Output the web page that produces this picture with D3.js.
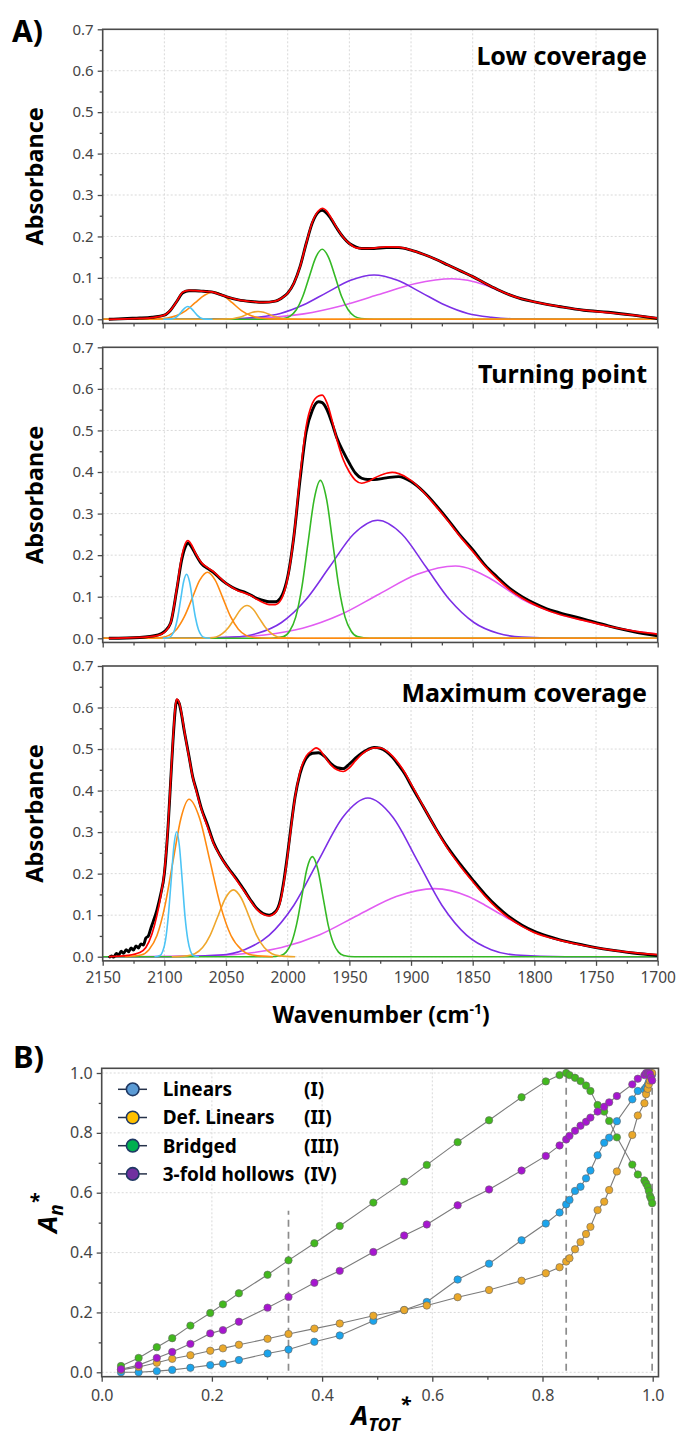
<!DOCTYPE html>
<html>
<head>
<meta charset="utf-8">
<script src="https://cdn.jsdelivr.net/npm/d3@7"></script>
<style>
  html, body { margin: 0; padding: 0; background: #fff; }
  svg { display: block; }
  text { font-family: "Noto Sans", "DejaVu Sans", sans-serif; }
</style>
</head>
<body>
<svg id="fig" width="681" height="1435"></svg>
<script>
// ---------------- Panel A: IR spectra (wavenumber, absorbance) ----------------
const wavenumberTicks = [2150, 2100, 2050, 2000, 1950, 1900, 1850, 1800, 1750, 1700];
const wavenumberMinor = [2125, 2075, 2025, 1975, 1925, 1875, 1825, 1775, 1725];
const absorbanceTicks = [0, 0.1, 0.2, 0.3, 0.4, 0.5, 0.6, 0.7];
const absorbanceMinor = [0.05, 0.15, 0.25, 0.35, 0.45, 0.55, 0.65];
const panelTitles = ["Low coverage", "Turning point", "Maximum coverage"];

// Low coverage
const lowMeasured = [[2145,0.000],[2130,0.002],[2120,0.003],[2110,0.005],[2100,0.010],[2095,0.022],[2090,0.043],[2085,0.064],[2080,0.069],[2075,0.069],[2070,0.068],[2065,0.067],[2060,0.065],[2055,0.060],[2050,0.055],[2040,0.047],[2030,0.043],[2020,0.041],[2010,0.044],[2005,0.051],[2000,0.063],[1995,0.087],[1990,0.127],[1985,0.183],[1980,0.233],[1975,0.259],[1972,0.263],[1968,0.255],[1965,0.243],[1960,0.219],[1955,0.198],[1950,0.183],[1945,0.175],[1940,0.171],[1930,0.171],[1920,0.173],[1910,0.173],[1900,0.167],[1890,0.157],[1880,0.145],[1870,0.131],[1860,0.117],[1850,0.103],[1840,0.087],[1830,0.072],[1820,0.059],[1810,0.049],[1800,0.042],[1790,0.036],[1780,0.031],[1760,0.022],[1740,0.017],[1720,0.010],[1700,0.002]];
const lowFit = [[2145,0.000],[2120,0.002],[2110,0.004],[2100,0.010],[2095,0.022],[2090,0.043],[2085,0.066],[2080,0.070],[2075,0.069],[2070,0.068],[2065,0.067],[2060,0.065],[2055,0.060],[2050,0.055],[2040,0.047],[2030,0.043],[2020,0.041],[2010,0.044],[2005,0.051],[2000,0.063],[1995,0.087],[1990,0.127],[1985,0.183],[1980,0.235],[1975,0.262],[1972,0.268],[1968,0.260],[1965,0.246],[1960,0.220],[1955,0.198],[1950,0.183],[1945,0.173],[1940,0.171],[1930,0.172],[1920,0.175],[1910,0.174],[1900,0.167],[1890,0.157],[1880,0.145],[1870,0.131],[1860,0.117],[1850,0.103],[1840,0.087],[1830,0.072],[1820,0.059],[1810,0.049],[1800,0.042],[1790,0.036],[1780,0.031],[1760,0.022],[1740,0.016],[1720,0.010],[1700,0.003]];
const lowLinear = [[2101,0],[2093.5,0.001],[2091,0.004],[2088.5,0.010],[2086,0.019],[2083.5,0.027],[2081,0.031],[2078.5,0.027],[2076,0.019],[2073.5,0.010],[2071,0.004],[2068.5,0.001],[2061,0]];
const lowDefLinearA = [[2150,0],[2120,0],[2105,0.001],[2097.5,0.003],[2090,0.009],[2082.5,0.021],[2075,0.040],[2067.5,0.058],[2060,0.066],[2052.5,0.058],[2045,0.040],[2037.5,0.021],[2030,0.009],[2022.5,0.003],[2015,0.001],[2000,0],[1700,0]];
const lowDefLinearB = [[2150,0],[2060,0],[2046.5,0.001],[2042,0.003],[2037.5,0.006],[2033,0.012],[2028.5,0.017],[2024,0.019],[2019.5,0.017],[2015,0.012],[2010.5,0.006],[2006,0.003],[2001.5,0.001],[1988,0],[1700,0]];
const lowBridged = [[2150,0],[2014,0],[2003.5,0.002],[1998.3,0.007],[1993,0.023],[1987.8,0.055],[1982.5,0.103],[1977.3,0.149],[1972,0.169],[1966.8,0.149],[1961.5,0.103],[1956.3,0.055],[1951,0.023],[1945.8,0.007],[1940.5,0.002],[1930,0],[1700,0]];
const lowHollowA = [[2150,0],[2082,0],[2044,0.001],[2025,0.005],[2006,0.014],[1987,0.035],[1968,0.065],[1949,0.094],[1930,0.107],[1911,0.094],[1892,0.065],[1873,0.035],[1854,0.014],[1835,0.005],[1816,0.001],[1778,0],[1700,0]];
const lowHollowB = [[2150,0],[2107,0],[2047,0.001],[2017,0.004],[1987,0.013],[1957,0.032],[1927,0.059],[1897,0.086],[1867,0.098],[1840,0.083],[1830,0.071],[1820,0.059],[1810,0.049],[1800,0.042],[1790,0.036],[1780,0.031],[1760,0.022],[1740,0.016],[1720,0.010],[1700,0.002]];

// Turning point
const tpMeasured = [[2145,0.000],[2120,0.002],[2105,0.008],[2100,0.016],[2095,0.036],[2090,0.116],[2086,0.188],[2083,0.220],[2081,0.229],[2078,0.220],[2075,0.204],[2070,0.180],[2065,0.168],[2060,0.158],[2055,0.144],[2050,0.132],[2045,0.123],[2040,0.116],[2035,0.111],[2030,0.104],[2025,0.096],[2020,0.091],[2015,0.088],[2010,0.088],[2006,0.096],[2002,0.124],[2000,0.148],[1995,0.245],[1990,0.381],[1985,0.497],[1980,0.549],[1975,0.569],[1972,0.567],[1968,0.549],[1964,0.517],[1960,0.481],[1955,0.449],[1950,0.421],[1945,0.397],[1940,0.385],[1935,0.382],[1930,0.382],[1920,0.386],[1910,0.389],[1900,0.377],[1890,0.353],[1880,0.321],[1870,0.285],[1860,0.247],[1850,0.213],[1840,0.176],[1830,0.147],[1820,0.120],[1810,0.100],[1800,0.084],[1790,0.071],[1780,0.062],[1760,0.046],[1740,0.030],[1720,0.016],[1700,0.006]];
const tpFit = [[2145,0.000],[2120,0.002],[2105,0.007],[2100,0.014],[2095,0.036],[2090,0.118],[2086,0.195],[2083,0.228],[2081,0.235],[2078,0.225],[2075,0.206],[2070,0.182],[2065,0.170],[2060,0.160],[2055,0.146],[2050,0.132],[2045,0.122],[2040,0.114],[2035,0.109],[2030,0.103],[2025,0.094],[2020,0.086],[2015,0.081],[2010,0.081],[2006,0.090],[2002,0.120],[2000,0.145],[1995,0.245],[1990,0.390],[1985,0.510],[1980,0.565],[1975,0.583],[1972,0.585],[1968,0.565],[1964,0.524],[1960,0.477],[1955,0.430],[1950,0.400],[1945,0.380],[1940,0.373],[1935,0.377],[1930,0.385],[1920,0.397],[1915,0.399],[1910,0.396],[1900,0.380],[1890,0.352],[1880,0.318],[1870,0.282],[1860,0.244],[1850,0.209],[1840,0.173],[1830,0.143],[1820,0.117],[1810,0.097],[1800,0.081],[1790,0.068],[1780,0.058],[1760,0.043],[1740,0.029],[1720,0.018],[1700,0.010]];
const tpLinear = [[2101.2,0],[2096.4,0.002],[2094,0.007],[2091.6,0.021],[2089.2,0.050],[2086.8,0.093],[2084.4,0.136],[2082,0.154],[2079.6,0.136],[2077.2,0.093],[2074.8,0.050],[2072.4,0.021],[2070,0.007],[2067.6,0.002],[2062.8,0]];
const tpDefLinearA = [[2150,0],[2115,0],[2102.5,0.002],[2096.3,0.007],[2090,0.022],[2083.8,0.052],[2077.5,0.096],[2071.3,0.140],[2065,0.159],[2058.8,0.140],[2052.5,0.096],[2046.3,0.052],[2040,0.022],[2033.8,0.007],[2027.5,0.002],[2015,0],[1700,0]];
const tpDefLinearB = [[2150,0],[2073,0],[2063,0.001],[2058,0.003],[2053,0.011],[2048,0.026],[2043,0.048],[2038,0.070],[2033,0.079],[2028,0.070],[2023,0.048],[2018,0.026],[2013,0.011],[2008,0.003],[2003,0.001],[1993,0],[1700,0]];
const tpBridged = [[2150,0],[2013.5,0],[2003.5,0.004],[1998.5,0.017],[1993.5,0.051],[1988.5,0.123],[1983.5,0.230],[1978.5,0.335],[1973.5,0.380],[1968.5,0.335],[1963.5,0.230],[1958.5,0.123],[1953.5,0.051],[1948.5,0.017],[1943.5,0.004],[1933.5,0],[1700,0]];
const tpHollowA = [[2150,0],[2083,0],[2044,0.003],[2024.5,0.012],[2005,0.038],[1985.5,0.092],[1966,0.172],[1946.5,0.251],[1927,0.284],[1907.5,0.251],[1888,0.172],[1868.5,0.092],[1849,0.038],[1829.5,0.012],[1810,0.003],[1771,0],[1700,0]];
const tpHollowB = [[2150,0],[2112,0],[2050,0.002],[2019,0.008],[1988,0.024],[1957,0.057],[1926,0.106],[1895,0.154],[1864,0.174],[1836.5,0.145],[1820,0.113],[1810,0.094],[1800,0.080],[1790,0.068],[1780,0.058],[1760,0.043],[1740,0.029],[1720,0.018],[1700,0.010]];

// Maximum coverage
const maxMeasured = [[2145,-0.003],[2143,0.002],[2141,-0.001],[2139,0.008],[2137,0.004],[2135,0.013],[2133,0.008],[2131,0.017],[2129,0.012],[2127,0.021],[2125,0.016],[2123,0.026],[2121,0.021],[2119,0.031],[2117,0.028],[2115,0.045],[2113,0.050],[2111,0.068],[2109,0.085],[2106,0.113],[2103,0.150],[2100,0.200],[2097,0.313],[2095,0.417],[2093,0.520],[2091,0.600],[2090,0.618],[2088,0.610],[2086,0.582],[2084,0.546],[2082,0.514],[2080,0.482],[2077,0.433],[2074,0.401],[2070,0.357],[2065,0.317],[2060,0.274],[2055,0.245],[2050,0.221],[2045,0.201],[2040,0.181],[2035,0.159],[2030,0.136],[2025,0.116],[2020,0.104],[2015,0.100],[2010,0.108],[2006,0.136],[2003,0.185],[2000,0.249],[1997,0.321],[1994,0.385],[1990,0.441],[1985,0.478],[1980,0.490],[1975,0.491],[1970,0.482],[1965,0.465],[1960,0.455],[1955,0.453],[1950,0.464],[1945,0.478],[1940,0.490],[1935,0.499],[1930,0.504],[1925,0.502],[1920,0.494],[1915,0.480],[1910,0.461],[1905,0.440],[1900,0.413],[1890,0.361],[1880,0.309],[1870,0.262],[1860,0.222],[1850,0.185],[1840,0.150],[1830,0.120],[1820,0.095],[1810,0.076],[1800,0.061],[1790,0.050],[1780,0.041],[1760,0.028],[1740,0.017],[1720,0.009],[1700,0.003]];
const maxFit = [[2145,0.000],[2130,0.003],[2120,0.010],[2115,0.022],[2110,0.055],[2106,0.100],[2103,0.145],[2100,0.205],[2097,0.315],[2095,0.420],[2093,0.525],[2091,0.605],[2090,0.620],[2088,0.612],[2086,0.585],[2084,0.548],[2082,0.512],[2080,0.480],[2077,0.432],[2074,0.398],[2070,0.355],[2065,0.313],[2060,0.272],[2055,0.244],[2050,0.220],[2045,0.199],[2040,0.178],[2035,0.157],[2030,0.134],[2025,0.114],[2020,0.102],[2015,0.098],[2010,0.106],[2006,0.132],[2003,0.180],[2000,0.245],[1997,0.318],[1994,0.385],[1990,0.445],[1985,0.483],[1980,0.497],[1977,0.503],[1974,0.498],[1970,0.482],[1965,0.462],[1960,0.450],[1955,0.446],[1950,0.455],[1945,0.472],[1940,0.487],[1935,0.498],[1930,0.503],[1925,0.503],[1920,0.496],[1915,0.483],[1910,0.465],[1905,0.443],[1900,0.416],[1890,0.362],[1880,0.308],[1870,0.259],[1860,0.218],[1850,0.181],[1840,0.146],[1830,0.116],[1820,0.092],[1810,0.073],[1800,0.058],[1790,0.048],[1780,0.040],[1760,0.027],[1740,0.017],[1720,0.010],[1700,0.005]];
const maxLinear = [[2108,0],[2103.5,0.003],[2101.3,0.013],[2099,0.041],[2096.8,0.098],[2094.5,0.183],[2092.3,0.266],[2090,0.301],[2087.8,0.266],[2085.5,0.183],[2083.3,0.098],[2081,0.041],[2078.8,0.013],[2076.5,0.003],[2072,0]];
const maxDefLinearA = [[2132,0],[2119,0.004],[2112.5,0.017],[2106,0.051],[2099.5,0.123],[2093,0.230],[2086.5,0.334],[2080,0.379],[2071.5,0.334],[2063,0.230],[2054.5,0.123],[2046,0.051],[2037.5,0.017],[2029,0.004],[2012,0]];
const maxDefLinearB = [[2094,0],[2081.5,0.002],[2075.3,0.007],[2069,0.022],[2062.8,0.052],[2056.5,0.098],[2050.3,0.142],[2044,0.161],[2037.8,0.142],[2031.5,0.098],[2025.3,0.052],[2019,0.022],[2012.8,0.007],[2006.5,0.002],[1994,0]];
const maxBridged = [[2150,0],[2014,0],[2005.5,0.003],[2001.3,0.011],[1997,0.033],[1992.8,0.078],[1988.5,0.146],[1984.3,0.213],[1980,0.241],[1975.8,0.213],[1971.5,0.146],[1967.3,0.078],[1963,0.033],[1958.8,0.011],[1954.5,0.003],[1946,0],[1700,0]];
const maxHollowA = [[2150,0],[2095,0],[2055,0.004],[2035,0.017],[2015,0.052],[1995,0.124],[1975,0.232],[1955,0.337],[1935,0.382],[1915,0.337],[1895,0.232],[1875,0.124],[1855,0.052],[1835,0.017],[1815,0.004],[1775,0],[1700,0]];
const maxHollowB = [[2150,0],[2129,0],[2067,0.002],[2036,0.007],[2005,0.022],[1974,0.053],[1943,0.100],[1912,0.145],[1881,0.164],[1853.5,0.145],[1840,0.124],[1826,0.100],[1810,0.074],[1800,0.060],[1790,0.049],[1780,0.040],[1760,0.027],[1740,0.017],[1720,0.009],[1700,0.003]];

// ---------------- Panel B: normalised band areas vs total area ----------------
const coverage = [0.035,0.067,0.100,0.128,0.161,0.197,0.220,0.249,0.301,0.339,0.386,0.432,0.493,0.549,0.590,0.646,0.703,0.762,0.806,0.831,0.843,0.849,0.859,0.869,0.879,0.887,0.900,0.912,0.921,0.935,0.963,0.973,0.985,0.988,0.991,0.993,0.995,0.997,0.999];
const linears    = [0.000,0.000,0.004,0.008,0.015,0.024,0.029,0.041,0.063,0.076,0.102,0.123,0.172,0.208,0.235,0.310,0.363,0.441,0.497,0.534,0.561,0.576,0.606,0.620,0.648,0.674,0.725,0.767,0.784,0.839,0.912,0.940,0.945,0.952,0.960,0.970,0.978,0.988,0.995];
const defLinears = [0.008,0.018,0.032,0.045,0.057,0.072,0.080,0.092,0.112,0.128,0.146,0.163,0.189,0.208,0.223,0.251,0.275,0.306,0.331,0.351,0.370,0.381,0.411,0.435,0.462,0.486,0.542,0.570,0.609,0.671,0.793,0.858,0.899,0.929,0.947,0.962,0.975,0.990,1.000];
const bridged    = [0.021,0.048,0.084,0.114,0.156,0.198,0.227,0.264,0.326,0.374,0.431,0.489,0.567,0.637,0.693,0.769,0.842,0.919,0.972,0.993,1.000,0.993,0.984,0.973,0.958,0.940,0.893,0.871,0.840,0.785,0.694,0.661,0.641,0.631,0.620,0.606,0.589,0.581,0.565];
const hollows    = [0.010,0.024,0.048,0.068,0.095,0.130,0.141,0.169,0.216,0.252,0.299,0.339,0.402,0.457,0.494,0.558,0.611,0.674,0.723,0.758,0.778,0.790,0.807,0.824,0.837,0.851,0.871,0.887,0.902,0.923,0.962,0.981,0.993,1.000,1.000,1.000,0.997,0.985,0.975];
const seriesNames = ["Linears", "Def. Linears", "Bridged", "3-fold hollows"];
const seriesRoman = ["(I)", "(II)", "(III)", "(IV)"];
const coverageTicks = [0, 0.2, 0.4, 0.6, 0.8, 1.0];
const coverageMinor = [0.1, 0.3, 0.5, 0.7, 0.9];
const areaTicks = [0, 0.2, 0.4, 0.6, 0.8, 1.0];
const areaMinor = [0.1, 0.3, 0.5, 0.7, 0.9];
const stageCoverage = [0.339, 0.843, 0.999];
const stageTop = [0.54, 1.015, 1.015];

// ---------------- drawing ----------------
const svg = d3.select("#fig");
const axisColor = "#4a4a4a";
const tickTextColor = "#454545";
const gridColor = "#d9d9d9";

const bandColors = ["#4cc4f5", "#ff8a10", "#efa72c", "#35b925", "#7c2fe6", "#e25cf2"];
const panelData = [
  { measured: lowMeasured, fit: lowFit, bands: [lowLinear, lowDefLinearA, lowDefLinearB, lowBridged, lowHollowA, lowHollowB] },
  { measured: tpMeasured,  fit: tpFit,  bands: [tpLinear, tpDefLinearA, tpDefLinearB, tpBridged, tpHollowA, tpHollowB] },
  { measured: maxMeasured, fit: maxFit, bands: [maxLinear, maxDefLinearA, maxDefLinearB, maxBridged, maxHollowA, maxHollowB] }
];
// vertical placement of each spectrum panel: pixel rows of 0.0 and 0.7
const panelRows = [ { zero: 319.3, top: 29.3 }, { zero: 638.3, top: 347.3 }, { zero: 956.7, top: 666.0 } ];

const xA = d3.scaleLinear().domain([2150, 1700]).range([102.7, 657.7]);

function styleAxis(sel, size) {
  sel.select(".domain").remove();
  sel.selectAll(".tick line").attr("stroke", axisColor).attr("stroke-width", 1.3);
  sel.selectAll(".tick text").attr("fill", tickTextColor)
    .style("font-family", '"Noto Sans", sans-serif').style("font-size", size + "px");
}

panelData.forEach((p, i) => {
  const rows = panelRows[i];
  const y = d3.scaleLinear().domain([0, 0.7]).range([rows.zero, rows.top]);
  const top = y(0.7), bottom = y(-0.01);
  const left = xA(2150), right = xA(1700);
  const g = svg.append("g");

  // dotted grid
  g.append("g").selectAll("line").data(wavenumberTicks.slice(1, -1)).join("line")
    .attr("x1", d => xA(d)).attr("x2", d => xA(d)).attr("y1", top).attr("y2", bottom)
    .attr("stroke", gridColor).attr("stroke-width", 1).attr("stroke-dasharray", "2,2");
  g.append("g").selectAll("line").data(absorbanceTicks.slice(0, -1)).join("line")
    .attr("x1", left).attr("x2", right).attr("y1", d => y(d)).attr("y2", d => y(d))
    .attr("stroke", gridColor).attr("stroke-width", 1).attr("stroke-dasharray", "2,2");

  const clipId = "clipA" + i;
  svg.append("clipPath").attr("id", clipId).append("rect")
    .attr("x", left).attr("y", top).attr("width", right - left).attr("height", bottom - top);

  const line = d3.line().x(d => xA(d[0])).y(d => y(d[1])).curve(d3.curveMonotoneX);
  const plot = g.append("g").attr("clip-path", `url(#${clipId})`);

  // fitted component bands, broad ones first
  [5, 4, 3, 2, 1, 0].forEach(k => {
    plot.append("path").attr("d", line(p.bands[k])).attr("fill", "none")
      .attr("stroke", bandColors[k]).attr("stroke-width", 1.6).attr("stroke-linejoin", "round");
  });
  plot.append("path").attr("d", line(p.measured)).attr("fill", "none")
    .attr("stroke", "#000").attr("stroke-width", 2.9).attr("stroke-linejoin", "round");
  plot.append("path").attr("d", line(p.fit)).attr("fill", "none")
    .attr("stroke", "#ff0000").attr("stroke-width", 1.7).attr("stroke-linejoin", "round");

  // axes
  const yAx = g.append("g").attr("transform", `translate(${left},0)`)
    .call(d3.axisLeft(y).tickValues(absorbanceTicks).tickFormat(d3.format(".1f")).tickSize(5).tickPadding(4));
  styleAxis(yAx, 15);
  const yMin = g.append("g").attr("transform", `translate(${left},0)`)
    .call(d3.axisLeft(y).tickValues(absorbanceMinor).tickFormat("").tickSize(3));
  styleAxis(yMin, 15);

  const xAx = g.append("g").attr("transform", `translate(0,${bottom})`)
    .call(d3.axisBottom(xA).tickValues(wavenumberTicks).tickSize(5).tickPadding(6)
      .tickFormat(i === 2 ? d3.format("d") : ""));
  styleAxis(xAx, 15.5);
  const xMin = g.append("g").attr("transform", `translate(0,${bottom})`)
    .call(d3.axisBottom(xA).tickValues(wavenumberMinor).tickFormat("").tickSize(3));
  styleAxis(xMin, 15);

  // frame
  g.append("rect").attr("x", left).attr("y", top).attr("width", right - left).attr("height", bottom - top)
    .attr("fill", "none").attr("stroke", axisColor).attr("stroke-width", 1.6);

  // titles
  g.append("text").attr("x", 647).attr("y", top + 35.5).attr("text-anchor", "end")
    .attr("font-weight", 700).attr("font-size", 25).attr("fill", "#000").text(panelTitles[i]);
  g.append("text").attr("transform", `translate(43,${(top + bottom) / 2}) rotate(-90)`)
    .attr("text-anchor", "middle").attr("font-weight", 700).attr("font-size", 23.5)
    .attr("fill", "#000").text("Absorbance");
});

// panel letters and x title for A
svg.append("text").attr("x", 12).attr("y", 42).attr("font-weight", 700).attr("font-size", 30).text("A)");
const wn = svg.append("text").attr("x", 381).attr("y", 1023).attr("text-anchor", "middle")
  .attr("font-weight", 700).attr("font-size", 22.5).attr("fill", "#000");
wn.append("tspan").text("Wavenumber (cm");
wn.append("tspan").attr("dy", -9).attr("font-size", 14).text("-1");
wn.append("tspan").attr("dy", 9).text(")");

// ---------------- Panel B ----------------
const xB = d3.scaleLinear().domain([0, 1]).range([101.7, 652.7]);
const yB = d3.scaleLinear().domain([0, 1]).range([1372.3, 1073.0]);
const bLeft = xB(0), bRight = xB(1.0105), bTop = yB(1.0157), bBottom = yB(-0.0147);
const gb = svg.append("g");

gb.append("g").selectAll("line").data(coverageTicks.slice(1, -1)).join("line")
  .attr("x1", d => xB(d)).attr("x2", d => xB(d)).attr("y1", bTop).attr("y2", bBottom)
  .attr("stroke", gridColor).attr("stroke-dasharray", "2,2");
gb.append("g").selectAll("line").data(areaTicks).join("line")
  .attr("x1", bLeft).attr("x2", bRight).attr("y1", d => yB(d)).attr("y2", d => yB(d))
  .attr("stroke", gridColor).attr("stroke-dasharray", "2,2");

// coverage stages
gb.append("g").selectAll("line").data(stageCoverage).join("line")
  .attr("x1", d => xB(d)).attr("x2", d => xB(d))
  .attr("y1", yB(0.005)).attr("y2", (d, i) => yB(stageTop[i]))
  .attr("stroke", "#8c8c8c").attr("stroke-width", 1.7).attr("stroke-dasharray", "7,5");

const seriesValues = [linears, defLinears, bridged, hollows];
const dotColors = ["#1ba4ec", "#eaa82a", "#42b81e", "#a616cf"];
const legendColors = ["#5b9bd5", "#ffc000", "#00b050", "#7030a0"];

const lineB = d3.line().x(d => xB(d[0])).y(d => yB(d[1]));
seriesValues.forEach(vals => {
  const pts = coverage.map((c, j) => [c, vals[j]]);
  gb.append("path").attr("d", lineB(pts)).attr("fill", "none")
    .attr("stroke", "#7b7b7b").attr("stroke-width", 1.1);
});
seriesValues.forEach((vals, k) => {
  const pts = coverage.map((c, j) => [c, vals[j]]);
  gb.append("g").selectAll("circle").data(pts).join("circle")
    .attr("cx", d => xB(d[0])).attr("cy", d => yB(d[1])).attr("r", 3.7)
    .attr("fill", dotColors[k]).attr("stroke", "#666").attr("stroke-width", 0.6);
});

const yBAx = gb.append("g").attr("transform", `translate(${bLeft},0)`)
  .call(d3.axisLeft(yB).tickValues(areaTicks).tickFormat(d3.format(".1f")).tickSize(5).tickPadding(4));
styleAxis(yBAx, 16);
const yBMin = gb.append("g").attr("transform", `translate(${bLeft},0)`)
  .call(d3.axisLeft(yB).tickValues(areaMinor).tickFormat("").tickSize(3));
styleAxis(yBMin, 16);
const xBAx = gb.append("g").attr("transform", `translate(0,${bBottom})`)
  .call(d3.axisBottom(xB).tickValues(coverageTicks).tickFormat(d3.format(".1f")).tickSize(5).tickPadding(8));
styleAxis(xBAx, 16);
const xBMin = gb.append("g").attr("transform", `translate(0,${bBottom})`)
  .call(d3.axisBottom(xB).tickValues(coverageMinor).tickFormat("").tickSize(3));
styleAxis(xBMin, 16);

gb.append("rect").attr("x", bLeft).attr("y", bTop).attr("width", bRight - bLeft).attr("height", bBottom - bTop)
  .attr("fill", "none").attr("stroke", axisColor).attr("stroke-width", 1.6);

// legend
seriesNames.forEach((name, k) => {
  const cy = 1089.3 + k * 28.2;
  gb.append("line").attr("x1", 118).attr("x2", 147).attr("y1", cy).attr("y2", cy)
    .attr("stroke", "#26324a").attr("stroke-width", 1.5);
  gb.append("circle").attr("cx", 132.7).attr("cy", cy).attr("r", 6.3)
    .attr("fill", legendColors[k]).attr("stroke", "#1f3864").attr("stroke-width", 1.6);
  gb.append("text").attr("x", 162.7).attr("y", cy).attr("dy", "0.36em")
    .attr("font-weight", 700).attr("font-size", 19).text(name);
  gb.append("text").attr("x", 304).attr("y", cy).attr("dy", "0.36em")
    .attr("font-weight", 700).attr("font-size", 19).text(seriesRoman[k]);
});

// labels for B
svg.append("text").attr("x", 13).attr("y", 1068).attr("font-weight", 700).attr("font-size", 31).text("B)");
const an = svg.append("text").attr("transform", "translate(57,1213) rotate(-90)")
  .attr("text-anchor", "middle").attr("font-weight", 700).attr("font-style", "italic").attr("font-size", 27);
an.append("tspan").text("A");
an.append("tspan").attr("dy", 6).attr("font-size", 19).text("n");
an.append("tspan").attr("dy", -18).attr("font-size", 20).text("*");

const at = svg.append("text").attr("x", 381).attr("y", 1425).attr("text-anchor", "middle")
  .attr("font-weight", 700).attr("font-style", "italic").attr("font-size", 27);
at.append("tspan").text("A");
at.append("tspan").attr("dy", 6).attr("font-size", 18).text("TOT");
at.append("tspan").attr("dy", -20).attr("font-size", 20).text("*");
</script>
</body>
</html>
